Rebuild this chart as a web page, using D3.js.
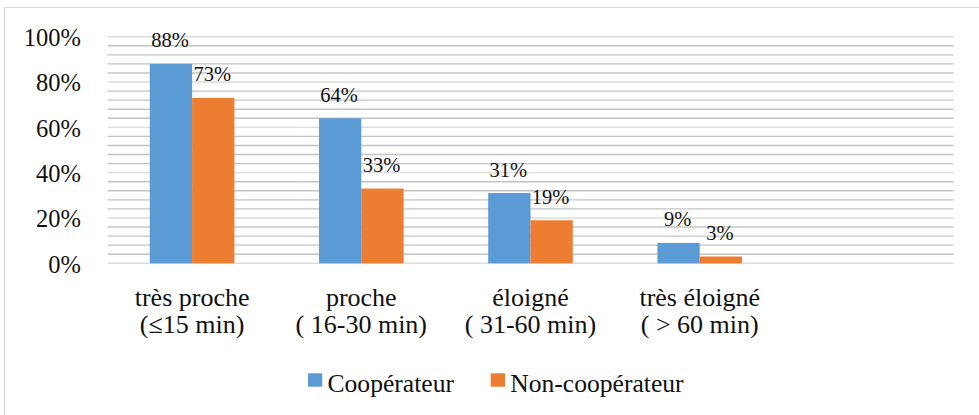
<!DOCTYPE html>
<html>
<head>
<meta charset="utf-8">
<script src="https://cdn.jsdelivr.net/npm/d3@7"></script>
<style>
  svg#chart text, svg#chart tspan { font-family: 'Liberation Serif', 'Times New Roman', Tinos !important; }
</style>
</head>
<body style="margin:0">
<svg id="chart" width="979" height="415" style="display:block"></svg>
<script>
// Temps de trajet jusqu'au point de collecte, par type de producteur
const categories = [
  ["très proche", "(≤15 min)"],
  ["proche", "( 16-30 min)"],
  ["éloigné", "( 31-60 min)"],
  ["très éloigné", "( > 60 min)"]
];
const seriesNames = ["Coopérateur", "Non-coopérateur"];
const cooperateur = [0.88, 0.64, 0.31, 0.09];
const nonCooperateur = [0.73, 0.33, 0.19, 0.03];
const yTicks = [0, 0.2, 0.4, 0.6, 0.8, 1.0];

const colors = ["#5b9bd5", "#ed7d31"];
const series = [cooperateur, nonCooperateur];
const FONT = "'Liberation Serif', 'Times New Roman', Tinos";

// Applies the serif face and a pixel size to a text selection
function serif(sel, size) {
  sel.attr("font-family", FONT)
    .style("font-family", FONT, "important")
    .style("font-size", size + "px");
  return sel;
}

const svg = d3.select("#chart");

// Cadre du graphique
svg.append("rect")
  .attr("x", 4.5).attr("y", 7.5)
  .attr("width", 1000).attr("height", 500)
  .attr("fill", "none").attr("stroke", "#d9d9d9").attr("stroke-width", 1);

const plotLeft = 107.5, plotRight = 953.5, plotTop = 36.7, plotBottom = 263.3;

// One empty slot after the last group, as in the source worksheet
const slots = d3.range(categories.length + 1);
const x = d3.scaleBand().domain(slots).range([plotLeft, plotRight])
  .paddingInner(0.5).paddingOuter(0.25);
const xs = d3.scaleBand().domain(d3.range(series.length)).range([0, x.bandwidth()]);
const y = d3.scaleLinear().domain([0, 1]).range([plotBottom, plotTop]);

// Quadrillage : lignes principales tous les 20 %, secondaires tous les 4 %
const minor = d3.range(0, 1.0001, 0.04);
svg.append("g").selectAll("line")
  .data(minor)
  .join("line")
  .attr("x1", plotLeft).attr("x2", plotRight)
  .attr("y1", d => y(d)).attr("y2", d => y(d))
  .attr("stroke", d => Math.abs(d * 5 - Math.round(d * 5)) < 1e-6 ? "#dcdcdc" : "#c4c4c4")
  .attr("stroke-width", 1.4);

// Axe des ordonnées
const yAxis = d3.axisLeft(y).tickValues(yTicks).tickFormat(d3.format(".0%")).tickSize(0);
const gy = svg.append("g").attr("transform", "translate(81,0)").call(yAxis);
gy.select(".domain").remove();
gy.attr("font-family", FONT).attr("font-size", null);
gy.selectAll(".tick text").remove();
gy.selectAll(".tick").append("text")
  .attr("x", 0).attr("y", 8.7)
  .attr("text-anchor", "end")
  .attr("fill", "#111")
  .call(serif, 24.5)
  .text(d => d3.format(".0%")(d));

// Barres
const groups = svg.append("g").selectAll("g")
  .data(categories)
  .join("g")
  .attr("transform", (d, i) => `translate(${x(i)},0)`);

groups.selectAll("rect")
  .data((d, i) => series.map((s, k) => ({ k, v: s[i] })))
  .join("rect")
  .attr("x", d => xs(d.k))
  .attr("width", xs.bandwidth())
  .attr("y", d => y(d.v))
  .attr("height", d => y(0) - y(d.v))
  .attr("fill", d => colors[d.k]);

// Étiquettes de valeurs
groups.selectAll("text.val")
  .data((d, i) => series.map((s, k) => ({ k, v: s[i] })))
  .join("text")
  .attr("class", "val")
  .attr("x", d => xs(d.k) + xs.bandwidth() / 2 - 1)
  .attr("y", d => y(d.v) - 16.5)
  .attr("text-anchor", "middle")
  .attr("fill", "#111")
  .call(serif, 20.5)
  .text(d => d3.format(".0%")(d.v));

// Axe des abscisses : libellés sur deux lignes
const xAxis = d3.axisBottom(x).tickSize(0).tickFormat(() => "");
const gx = svg.append("g").attr("transform", `translate(0,${plotBottom})`).call(xAxis);
gx.select(".domain").remove();
gx.attr("font-family", FONT).attr("font-size", null);
gx.selectAll(".tick text").remove();
gx.selectAll(".tick")
  .filter(d => d < categories.length)
  .append("text")
  .attr("text-anchor", "middle")
  .attr("fill", "#111")
  .call(serif, 26)
  .selectAll("tspan")
  .data(d => categories[d])
  .join("tspan")
  .attr("x", 0)
  .attr("y", (d, j) => 306 - plotBottom + j * 27.3)
  .text(d => d);

// Légende
const legendX = [308, 490.7];
const legend = svg.append("g").selectAll("g")
  .data(seriesNames)
  .join("g")
  .attr("transform", (d, i) => `translate(${legendX[i]},0)`);
legend.append("rect")
  .attr("x", 0).attr("y", 373.3)
  .attr("width", 14.3).attr("height", 13.4)
  .attr("fill", (d, i) => colors[i]);
legend.append("text")
  .attr("x", 19.5).attr("y", 392)
  .attr("fill", "#111")
  .call(serif, 25.6)
  .text(d => d);
</script>
</body>
</html>
